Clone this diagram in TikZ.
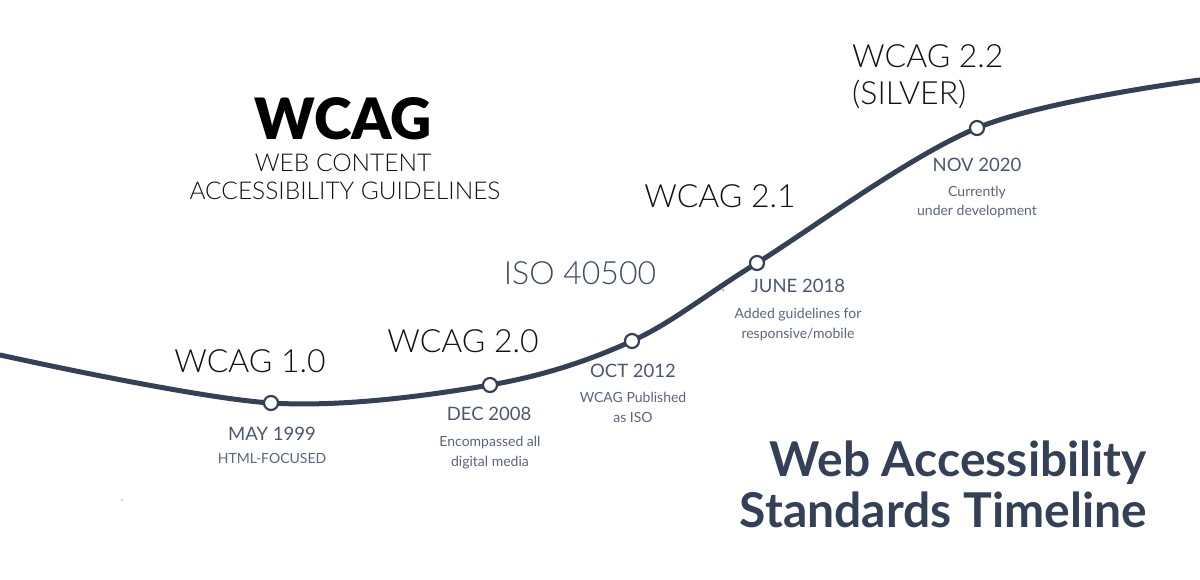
\documentclass[tikz,border=0pt]{standalone}
\usepackage{fontspec}
\setmainfont{Lato}
\newfontfamily\lightfont{Lato Light}
\newfontfamily\heavyfont{Lato Black}
\definecolor{navy}{HTML}{344055}
\definecolor{datecol}{HTML}{4B5770}
\definecolor{notecol}{HTML}{5A657C}
\definecolor{isocol}{HTML}{3D4A63}
\definecolor{ink}{HTML}{111111}
\begin{document}
\begin{tikzpicture}[x=1pt,y=-1pt,
  milestone/.style={circle, draw=navy, fill=white, line width=2.2pt, minimum size=14pt, inner sep=0pt},
  version/.style={font=\lightfont\fontsize{32}{37}\selectfont, text=ink, anchor=base, inner sep=0pt},
  datelbl/.style={font=\fontsize{18.5}{20}\selectfont, text=datecol, anchor=base, inner sep=0pt},
  notelbl/.style={font=\fontsize{14}{19.5}\selectfont, text=notecol, anchor=base, align=center, inner sep=0pt},
  speck/.style={fill=gray!55}]
\useasboundingbox (0,0) rectangle (1200,580);

% points of the timeline curve
\coordinate (start) at (0,355);
\coordinate (p1999) at (271,403);
\coordinate (p2008) at (490,385);
\coordinate (p2012) at (632,341);
\coordinate (p2018) at (757,263);
\coordinate (p2020) at (977,128);
\coordinate (finish) at (1200,80);

\draw[navy, line width=5pt, line cap=round]
  plot[smooth, tension=0.55] coordinates {(start) (p1999) (p2008) (p2012) (p2018) (p2020) (finish)};

\node[milestone] (m1999) at (p1999) {};
\node[milestone] (m2008) at (p2008) {};
\node[milestone] (m2012) at (p2012) {};
\node[milestone] (m2018) at (p2018) {};
\node[milestone] (m2020) at (p2020) {};

% WCAG logo block
\node[font=\heavyfont\fontsize{57}{60}\selectfont, text=black, anchor=base, inner sep=0pt] (logo) at (343,140) {WCAG};
\node[font=\lightfont\fontsize{24.5}{28}\selectfont, text=ink, anchor=base, inner sep=0pt] (logo1) at (343,172) {WEB CONTENT};
\node[font=\lightfont\fontsize{24.5}{28}\selectfont, text=ink, anchor=base, inner sep=0pt] (logo2) at (345,200) {ACCESSIBILITY GUIDELINES};

% version headings (multi-line nodes sit on their last baseline)
\node[version] (v10) at (250,372) {WCAG 1.0};
\node[version] (v20) at (463,352) {WCAG 2.0};
\node[version, text=isocol] (iso) at (580,284) {ISO 40500};
\node[version] (v21) at (720,208) {WCAG 2.1};
\node[version, anchor=base west, align=left] (v22) at (852,105) {WCAG 2.2\\(SILVER)};

% dates and notes
\node[datelbl] (d1999) at (272,440) {MAY 1999};
\node[notelbl] (n1999) at (272,463) {HTML-FOCUSED};
\node[datelbl] (d2008) at (489,420) {DEC 2008};
\node[notelbl] (n2008) at (490,466) {Encompassed all\\digital media};
\node[datelbl] (d2012) at (633,377) {OCT 2012};
\node[notelbl] (n2012) at (633,422) {WCAG Published\\as ISO};
\node[datelbl] (d2018) at (798,293) {JUNE 2018};
\node[notelbl] (n2018) at (798,338) {Added guidelines for\\responsive/mobile};
\node[datelbl] (d2020) at (977,172) {NOV 2020};
\node[notelbl] (n2020) at (977,216) {Currently\\under development};

% title
\node[font=\fontsize{48}{51}\selectfont\bfseries, text=navy, anchor=base east, align=right, inner sep=0pt] (title) at (1147,527) {Web Accessibility\\Standards Timeline};

% small specks
\fill[speck] (122,500) circle (1.2);
\fill[speck] (723,290) circle (1.5);
\end{tikzpicture}
\end{document}
